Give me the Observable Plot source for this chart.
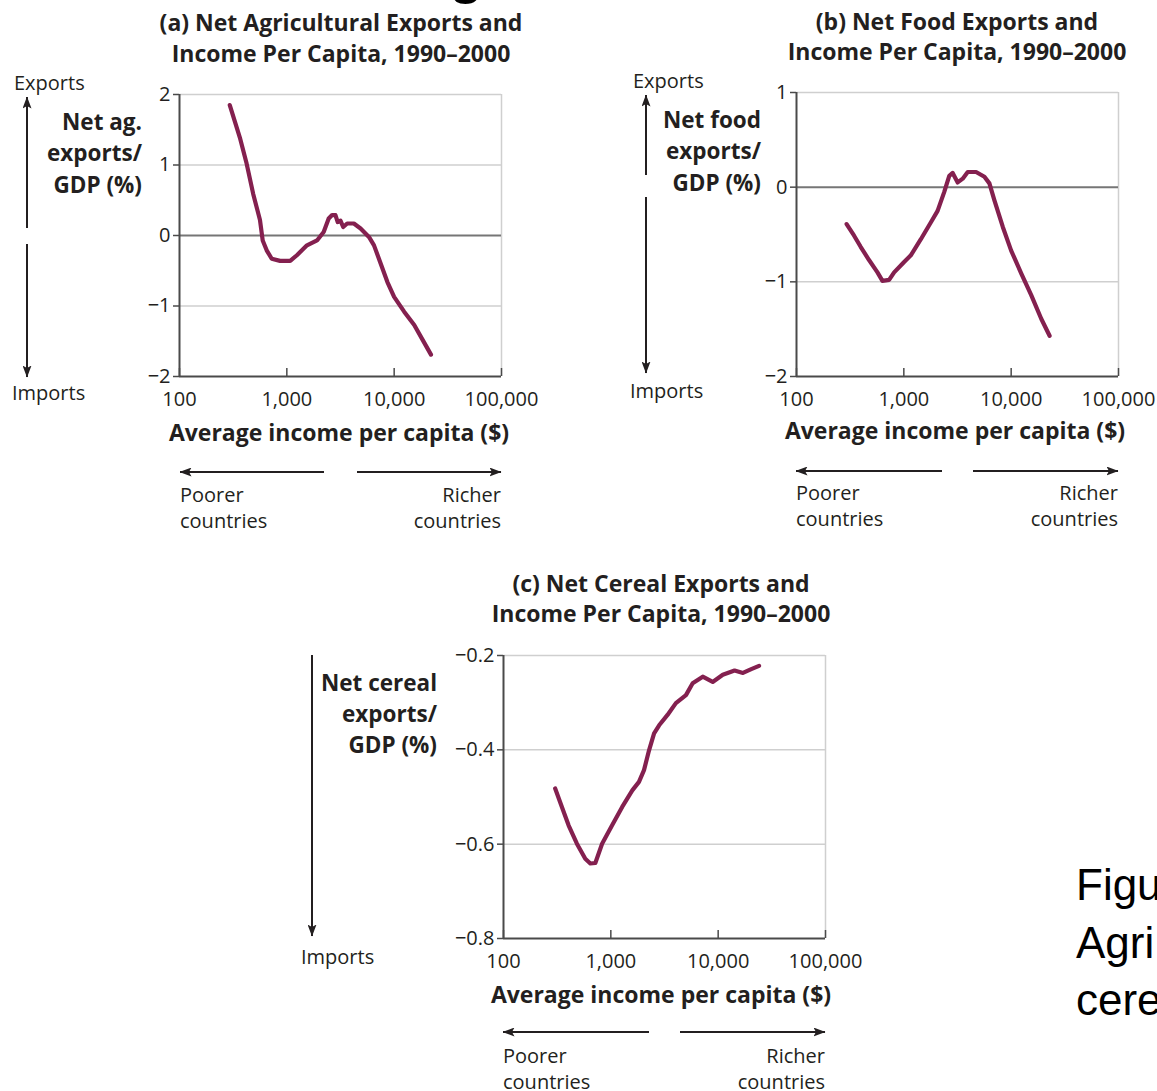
<!DOCTYPE html>
<html>
<head>
<meta charset="utf-8">
<script src="https://cdn.jsdelivr.net/npm/d3@7"></script>
<script src="https://cdn.jsdelivr.net/npm/@observablehq/plot@0.6"></script>
<style>
  html, body { margin: 0; padding: 0; background: #fff; }
  #page { position: relative; width: 1157px; height: 1091px; overflow: hidden;
          font-family: "Open Sans", sans-serif; color: #231f20; }
  .t { position: absolute; white-space: nowrap; }
  .slide { position: absolute; white-space: nowrap; font-family: "Liberation Sans", Arial, sans-serif; color: #000; }
</style>
</head>
<body>
<div id="page"></div>
<script>
// Income axis (log scale) shared by the three panels
const xTicks = [100, 1000, 10000, 100000];

// (a) Net agricultural exports / GDP (%)
const incomeAg = [294, 365, 422, 486, 562, 596, 649, 723, 865, 1075, 1241, 1540, 1910, 2204, 2455, 2641, 2838, 2979, 3162, 3350, 3650, 4214, 4866, 5822, 6490, 7499, 8650, 9990, 12390, 15380, 18420, 22030];
const netAg = [1.85, 1.39, 1.02, 0.59, 0.22, -0.07, -0.21, -0.33, -0.36, -0.36, -0.28, -0.14, -0.07, 0.05, 0.24, 0.29, 0.29, 0.19, 0.21, 0.12, 0.17, 0.17, 0.10, -0.02, -0.14, -0.40, -0.66, -0.87, -1.08, -1.27, -1.48, -1.69];
const yTicksAg = [-2, -1, 0, 1, 2];

// (b) Net food exports / GDP (%)
const incomeFood = [293, 343, 396, 474, 568, 632, 729, 812, 1006, 1162, 1441, 1788, 2063, 2381, 2650, 2850, 3175, 3537, 3938, 4710, 5634, 6271, 6982, 8360, 10000, 12400, 15380, 19060, 22800];
const netFood = [-0.39, -0.51, -0.63, -0.77, -0.90, -0.99, -0.98, -0.90, -0.79, -0.72, -0.55, -0.37, -0.25, -0.05, 0.12, 0.15, 0.05, 0.09, 0.16, 0.16, 0.11, 0.04, -0.14, -0.42, -0.67, -0.91, -1.14, -1.39, -1.57];
const yTicksFood = [-2, -1, 0, 1];

// (c) Net cereal exports / GDP (%)
const incomeCereal = [303, 350, 404, 483, 578, 644, 717, 829, 1028, 1276, 1585, 1829, 2037, 2270, 2529, 2819, 3373, 4036, 5010, 5785, 7181, 8895, 11040, 14220, 17020, 20340, 24040];
const netCereal = [-0.482, -0.521, -0.560, -0.599, -0.631, -0.641, -0.640, -0.599, -0.560, -0.521, -0.486, -0.468, -0.443, -0.401, -0.365, -0.348, -0.326, -0.301, -0.284, -0.259, -0.245, -0.256, -0.241, -0.232, -0.237, -0.229, -0.222];
const yTicksCereal = [-0.8, -0.6, -0.4, -0.2];

const PAGE_W = 1157;
const page = document.getElementById("page");
const ink = "#231f20";
const axisGray = "#4a4a4a";

// Absolutely positioned text block; y is the vertical centre of the first line
function txt(lines, x, y, {align = "left", size = 20, weight = 400, lh = 27} = {}) {
  const d = document.createElement("div");
  d.className = "t";
  d.style.fontSize = size + "px";
  d.style.fontWeight = weight;
  d.style.lineHeight = lh + "px";
  d.style.top = (y - lh / 2) + "px";
  d.style.textAlign = align;
  if (align === "left") d.style.left = x + "px";
  else if (align === "right") d.style.right = (PAGE_W - x) + "px";
  else { d.style.left = x + "px"; d.style.transform = "translateX(-50%)"; }
  d.innerHTML = lines.join("<br>");
  page.appendChild(d);
}

// One panel: plot frame placed with its top-left corner at (x0, y0)
function panel({x0, y0, h, yDomain, yTicks, fmt, income, value, zero}) {
  const ml = 70, mr = 60, mt = 14, mb = 44, w = 322;
  const data = income.map((d, i) => ({income: d, value: value[i]}));
  const chart = Plot.plot({
    width: ml + w + mr, height: mt + h + mb,
    marginLeft: ml, marginRight: mr, marginTop: mt, marginBottom: mb,
    style: {fontFamily: "'Open Sans', sans-serif", fontSize: "20px", color: ink, background: "none", overflow: "visible"},
    x: {type: "log", domain: [xTicks[0], xTicks[xTicks.length - 1]], label: null},
    y: {domain: yDomain, label: null},
    marks: [
      Plot.ruleY(yTicks.filter(t => t !== yDomain[0] && t !== 0), {stroke: "#cfcfcf", strokeWidth: 1.5}),
      Plot.ruleX([xTicks[xTicks.length - 1]], {stroke: "#cfcfcf", strokeWidth: 1.5}),
      zero ? Plot.ruleY([0], {stroke: "#767676", strokeWidth: 2}) : null,
      Plot.line(data, {x: "income", y: "value", stroke: "#84204f", strokeWidth: 4.2, strokeLinejoin: "round", strokeLinecap: "round"}),
      Plot.ruleX([xTicks[0]], {stroke: axisGray, strokeWidth: 2}),
      Plot.ruleY([yDomain[0]], {stroke: axisGray, strokeWidth: 2}),
      Plot.axisY(yTicks, {tickSize: 6, tickPadding: 3, tickFormat: fmt, stroke: axisGray, strokeWidth: 1.5, label: null}),
      Plot.axisX(xTicks, {tickSize: -8, fill: "none", stroke: axisGray, strokeWidth: 1.5, label: null}),
      Plot.axisX(xTicks, {tickSize: 0, tickPadding: 15, tickFormat: d3.format(","), label: null})
    ]
  });
  chart.style.position = "absolute";
  chart.style.left = (x0 - ml) + "px";
  chart.style.top = (y0 - mt) + "px";
  page.appendChild(chart);
}

panel({x0: 179, y0: 94, h: 282, yDomain: [-2, 2], yTicks: yTicksAg, fmt: d3.format("d"), income: incomeAg, value: netAg, zero: true});
panel({x0: 796, y0: 92, h: 284, yDomain: [-2, 1], yTicks: yTicksFood, fmt: d3.format("d"), income: incomeFood, value: netFood, zero: true});
panel({x0: 503, y0: 655, h: 283, yDomain: [-0.8, -0.2], yTicks: yTicksCereal, fmt: d3.format(".1f"), income: incomeCereal, value: netCereal, zero: false});

// Titles
const bold = {align: "center", size: 23, weight: 700, lh: 31};
txt(["(a) Net Agricultural Exports and", "Income Per Capita, 1990–2000"], 341, 22, bold);
txt(["(b) Net Food Exports and", "Income Per Capita, 1990–2000"], 957, 21, {...bold, lh: 30});
txt(["(c) Net Cereal Exports and", "Income Per Capita, 1990–2000"], 661, 583, {...bold, lh: 30});

// Y-axis labels
const ylab = {align: "right", size: 22.5, weight: 700, lh: 31.5};
txt(["Net ag.", "exports/", "GDP (%)"], 142, 121.5, ylab);
txt(["Net food", "exports/", "GDP (%)"], 761, 119.5, ylab);
txt(["Net cereal", "exports/", "GDP (%)"], 437, 682, {...ylab, lh: 31});

// X-axis labels
const xlab = {align: "center", size: 23, weight: 700, lh: 30};
txt(["Average income per capita ($)"], 339, 432, xlab);
txt(["Average income per capita ($)"], 955, 430, xlab);
txt(["Average income per capita ($)"], 661, 994, xlab);

// Exports / Imports direction labels
txt(["Exports"], 14, 82);
txt(["Imports"], 12, 392);
txt(["Exports"], 633, 80);
txt(["Imports"], 630, 390);
txt(["Imports"], 301, 956);

// Poorer / richer labels
const note = {lh: 26.5};
txt(["Poorer", "countries"], 180, 495, note);
txt(["Richer", "countries"], 501, 495, {...note, align: "right"});
txt(["Poorer", "countries"], 796, 493, note);
txt(["Richer", "countries"], 1118, 493, {...note, align: "right"});
txt(["Poorer", "countries"], 503, 1056, note);
txt(["Richer", "countries"], 825, 1056, {...note, align: "right"});

// Direction arrows
const svg = d3.select(page).append("svg")
  .attr("width", PAGE_W).attr("height", 1091)
  .style("position", "absolute").style("left", 0).style("top", 0)
  .style("pointer-events", "none");
svg.append("defs").append("marker")
  .attr("id", "head").attr("viewBox", "0 0 12 9")
  .attr("refX", 11.5).attr("refY", 4.5)
  .attr("markerWidth", 12).attr("markerHeight", 9)
  .attr("markerUnits", "userSpaceOnUse").attr("orient", "auto")
  .append("path").attr("d", "M0,0 L12,4.5 L0,9 L2.5,4.5 Z").attr("fill", ink);
const arrows = [
  [27, 228, 27, 97], [27, 244, 27, 377], [324, 472, 180, 472], [357, 472, 501, 472],
  [646, 175, 646, 95], [646, 197, 646, 373], [942, 471, 796, 471], [973, 471, 1118, 471],
  [312, 655, 312, 936], [649, 1032, 503, 1032], [680, 1032, 825, 1032]
];
svg.selectAll("line").data(arrows).join("line")
  .attr("x1", d => d[0]).attr("y1", d => d[1]).attr("x2", d => d[2]).attr("y2", d => d[3])
  .attr("stroke", ink).attr("stroke-width", 2).attr("marker-end", "url(#head)");

// Slide text around the figure
const g = document.createElement("div");
g.className = "slide";
Object.assign(g.style, {left: "449px", top: "-55px", fontSize: "56px", lineHeight: "56px", fontWeight: 700});
g.textContent = "g";
page.appendChild(g);

const side = document.createElement("div");
side.className = "slide";
Object.assign(side.style, {left: "1076px", top: "856px", fontSize: "44px", lineHeight: "57.5px"});
side.innerHTML = "Figu<br>Agri<br>cere";
page.appendChild(side);
</script>
</body>
</html>
